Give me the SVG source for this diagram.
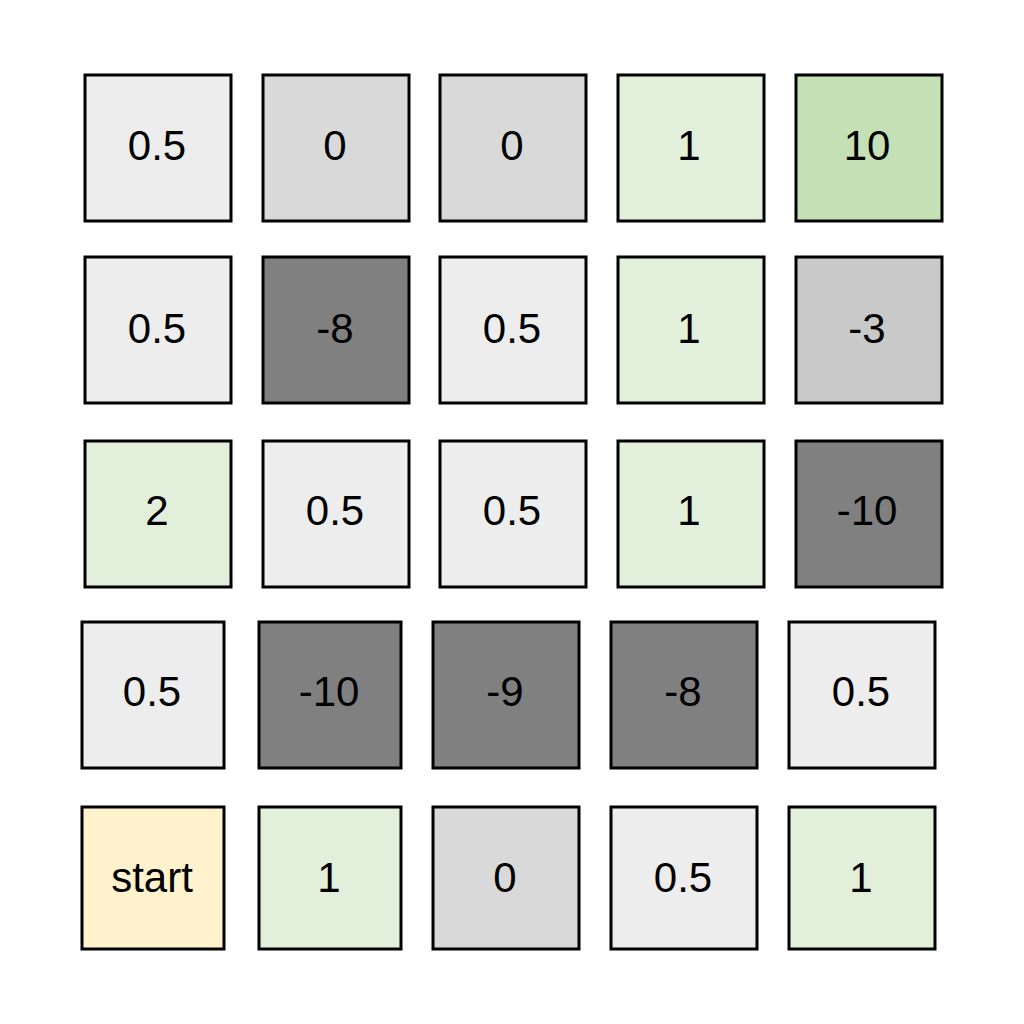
<svg xmlns="http://www.w3.org/2000/svg" width="1024" height="1024" viewBox="0 0 1024 1024">
<style>
rect{stroke:#000;stroke-width:3}
text{font-family:"Liberation Sans",Arial,sans-serif;font-size:42px;fill:#000;text-anchor:middle}
.w{fill:#ededed}.z{fill:#d9d9d9}.d{fill:#808080}.m{fill:#c9c9c9}.g{fill:#e2efda}.G{fill:#c5e0b4}.s{fill:#fff2cc}
</style>
<rect width="1024" height="1024" fill="#fff" style="stroke:none"/>
<g id="connectors"/>
<g id="r1c1"><rect class="w" x="85" y="75" width="146" height="146"/><text x="157" y="160">0.5</text></g>
<g id="r1c2"><rect class="z" x="263" y="75" width="146" height="146"/><text x="335" y="160">0</text></g>
<g id="r1c3"><rect class="z" x="440" y="75" width="146" height="146"/><text x="512" y="160">0</text></g>
<g id="r1c4"><rect class="g" x="618" y="75" width="146" height="146"/><text x="689" y="160">1</text></g>
<g id="r1c5"><rect class="G" x="796" y="75" width="146" height="146"/><text x="867" y="160">10</text></g>
<g id="r2c1"><rect class="w" x="85" y="257" width="146" height="146"/><text x="157" y="343">0.5</text></g>
<g id="r2c2"><rect class="d" x="263" y="257" width="146" height="146"/><text x="335" y="343">-8</text></g>
<g id="r2c3"><rect class="w" x="440" y="257" width="146" height="146"/><text x="512" y="343">0.5</text></g>
<g id="r2c4"><rect class="g" x="618" y="257" width="146" height="146"/><text x="689" y="343">1</text></g>
<g id="r2c5"><rect class="m" x="796" y="257" width="146" height="146"/><text x="867" y="343">-3</text></g>
<g id="r3c1"><rect class="g" x="85" y="441" width="146" height="146"/><text x="157" y="525">2</text></g>
<g id="r3c2"><rect class="w" x="263" y="441" width="146" height="146"/><text x="335" y="525">0.5</text></g>
<g id="r3c3"><rect class="w" x="440" y="441" width="146" height="146"/><text x="512" y="525">0.5</text></g>
<g id="r3c4"><rect class="g" x="618" y="441" width="146" height="146"/><text x="689" y="525">1</text></g>
<g id="r3c5"><rect class="d" x="796" y="441" width="146" height="146"/><text x="867" y="525">-10</text></g>
<g id="r4c1"><rect class="w" x="82" y="622" width="142" height="146"/><text x="152" y="706">0.5</text></g>
<g id="r4c2"><rect class="d" x="259" y="622" width="142" height="146"/><text x="329" y="706">-10</text></g>
<g id="r4c3"><rect class="d" x="433" y="622" width="146" height="146"/><text x="505" y="706">-9</text></g>
<g id="r4c4"><rect class="d" x="611" y="622" width="146" height="146"/><text x="683" y="706">-8</text></g>
<g id="r4c5"><rect class="w" x="789" y="622" width="146" height="146"/><text x="861" y="706">0.5</text></g>
<g id="r5c1"><rect class="s" x="82" y="807" width="142" height="142"/><text x="152" y="892">start</text></g>
<g id="r5c2"><rect class="g" x="259" y="807" width="142" height="142"/><text x="329" y="892">1</text></g>
<g id="r5c3"><rect class="z" x="433" y="807" width="146" height="142"/><text x="505" y="892">0</text></g>
<g id="r5c4"><rect class="w" x="611" y="807" width="146" height="142"/><text x="683" y="892">0.5</text></g>
<g id="r5c5"><rect class="g" x="789" y="807" width="146" height="142"/><text x="861" y="892">1</text></g>
</svg>
